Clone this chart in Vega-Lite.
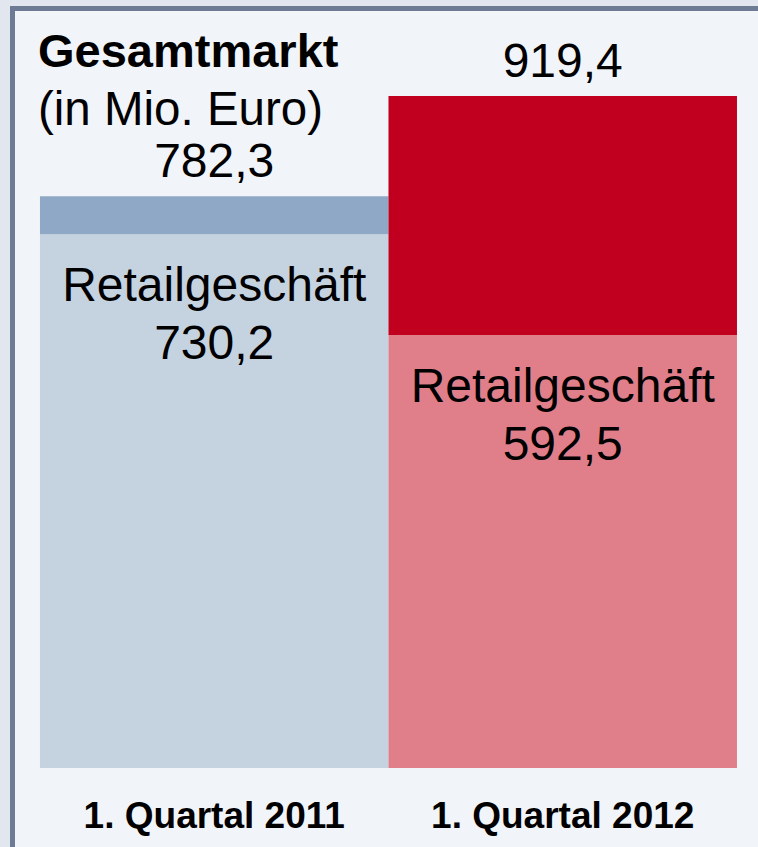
{
  "$schema": "https://vega.github.io/schema/vega-lite/v6.json",
  "autosize": {"type": "none"},
  "padding": {"left": 12, "top": 8, "right": 0, "bottom": 0},
  "width": 746,
  "height": 839,
  "background": "#e2e7ef",
  "config": {
    "font": "Liberation Sans",
    "view": {"fill": "#f1f4f8", "stroke": null},
    "locale": {"number": {"decimal": ",", "thousands": ".", "grouping": [3], "currency": ["", " €"]}}
  },
  "title": {
    "text": "Gesamtmarkt",
    "subtitle": "(in Mio. Euro)",
    "anchor": "start",
    "frame": "group",
    "orient": "top",
    "offset": 0,
    "dx": 26,
    "dy": 127,
    "font": "Liberation Sans",
    "fontSize": 47,
    "fontWeight": "bold",
    "color": "#000000",
    "subtitleFont": "Liberation Sans",
    "subtitleFontSize": 47.5,
    "subtitleColor": "#000000",
    "subtitlePadding": 10
  },
  "data": {
    "values": [
      {"quarter": "1. Quartal 2011", "segment": "Retailgeschäft", "part": "2011 Retail", "value": 730.2},
      {"quarter": "1. Quartal 2011", "segment": "Sonstiges", "part": "2011 Sonstiges", "value": 52.1},
      {"quarter": "1. Quartal 2012", "segment": "Retailgeschäft", "part": "2012 Retail", "value": 592.5},
      {"quarter": "1. Quartal 2012", "segment": "Sonstiges", "part": "2012 Sonstiges", "value": 326.9}
    ]
  },
  "resolve": {"axis": {"x": "independent"}},
  "layer": [
    {
      "mark": {"type": "bar", "stroke": null},
      "encoding": {
        "x": {
          "field": "quarter",
          "type": "nominal",
          "sort": ["1. Quartal 2011", "1. Quartal 2012"],
          "scale": {"paddingInner": 0, "paddingOuter": 0.0703, "align": 0.571},
          "axis": {
            "title": null,
            "orient": "bottom",
            "offset": -20,
            "domain": false,
            "ticks": false,
            "labelPadding": 0,
            "labelBaseline": "alphabetic",
            "labelAngle": 0,
            "labelLimit": 0,
            "labelFont": "Liberation Sans",
            "labelFontSize": 37,
            "labelFontWeight": "bold",
            "labelColor": "#000000"
          }
        },
        "y": {
          "field": "value",
          "type": "quantitative",
          "stack": "zero",
          "scale": {"domain": [-108.1, 1039.7], "nice": false, "zero": false},
          "axis": {
            "title": null,
            "labels": false,
            "ticks": false,
            "grid": false,
            "domain": true,
            "domainColor": "#6d7c94",
            "domainWidth": 5,
            "domainCap": "square"
          }
        },
        "color": {
          "field": "part",
          "type": "nominal",
          "scale": {
            "domain": ["2011 Retail", "2011 Sonstiges", "2012 Retail", "2012 Sonstiges"],
            "range": ["#c5d3e1", "#8fa8c5", "#e07f8a", "#c0001e"]
          },
          "legend": null
        },
        "order": {"field": "segment", "sort": "ascending"}
      }
    },
    {
      "transform": [{"filter": "datum.segment === 'Retailgeschäft'"}],
      "mark": {"type": "text", "baseline": "alphabetic", "align": "center", "dy": 67, "fontSize": 48, "color": "#000000"},
      "encoding": {
        "x": {
          "field": "quarter",
          "type": "nominal",
          "sort": ["1. Quartal 2011", "1. Quartal 2012"],
          "axis": {
            "title": null,
            "orient": "top",
            "labels": false,
            "ticks": false,
            "grid": false,
            "domain": true,
            "domainColor": "#6d7c94",
            "domainWidth": 5,
            "domainCap": "square"
          }
        },
        "y": {"field": "value", "type": "quantitative"},
        "text": {"field": "segment", "type": "nominal"}
      }
    },
    {
      "transform": [{"filter": "datum.segment === 'Retailgeschäft'"}],
      "mark": {"type": "text", "baseline": "alphabetic", "align": "center", "dy": 125, "fontSize": 48, "color": "#000000"},
      "encoding": {
        "x": {"field": "quarter", "type": "nominal", "sort": ["1. Quartal 2011", "1. Quartal 2012"], "axis": null},
        "y": {"field": "value", "type": "quantitative"},
        "text": {"field": "value", "type": "quantitative", "format": ".1f"}
      }
    },
    {
      "transform": [{"aggregate": [{"op": "sum", "field": "value", "as": "total"}], "groupby": ["quarter"]}],
      "mark": {"type": "text", "baseline": "alphabetic", "align": "center", "dy": -19, "fontSize": 48, "color": "#000000"},
      "encoding": {
        "x": {"field": "quarter", "type": "nominal", "sort": ["1. Quartal 2011", "1. Quartal 2012"], "axis": null},
        "y": {"field": "total", "type": "quantitative"},
        "text": {"field": "total", "type": "quantitative", "format": ".1f"}
      }
    }
  ]
}
